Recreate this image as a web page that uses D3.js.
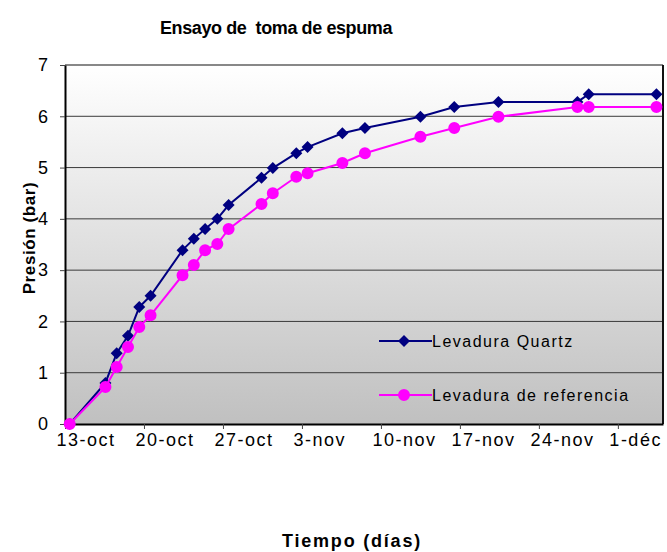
<!DOCTYPE html>
<html>
<head>
<meta charset="utf-8">
<script src="https://cdn.jsdelivr.net/npm/d3@7"></script>
<style>
  body { margin: 0; background: #fff; }
  text { font-family: Arial, "Liberation Sans", sans-serif; fill: #000; }
</style>
</head>
<body>
<div id="chart"></div>
<script>
// fechas de medida (dia + hora aprox.)
const fechas = [
  "2008-10-13T10:00", "2008-10-16T14:00", "2008-10-17T14:00", "2008-10-18T14:00",
  "2008-10-19T14:00", "2008-10-20T14:00", "2008-10-23T10:00", "2008-10-24T10:00",
  "2008-10-25T10:00", "2008-10-26T12:00", "2008-10-27T12:00", "2008-10-30T10:00",
  "2008-10-31T10:00", "2008-11-02T12:00", "2008-11-03T12:00", "2008-11-06T14:00",
  "2008-11-08T14:00", "2008-11-13T12:00", "2008-11-16T12:00", "2008-11-20T10:00",
  "2008-11-27T10:00", "2008-11-28T10:00", "2008-12-04T10:00"
]
const quartz = [0, 0.8, 1.38, 1.72, 2.28, 2.5, 3.39, 3.61, 3.8, 4.0, 4.27, 4.8,
  4.99, 5.28, 5.4, 5.67, 5.77, 5.99, 6.18, 6.28, 6.28, 6.43, 6.43]
const referencia = [0, 0.72, 1.11, 1.5, 1.89, 2.12, 2.9, 3.1, 3.39, 3.51, 3.8, 4.29,
  4.5, 4.82, 4.89, 5.09, 5.28, 5.6, 5.77, 5.99, 6.18, 6.18, 6.18]

const tickFechas = ["2008-10-13", "2008-10-20", "2008-10-27", "2008-11-03",
  "2008-11-10", "2008-11-17", "2008-11-24", "2008-12-01"]
const tickLabels = ["13-oct", "20-oct", "27-oct", "3-nov", "10-nov", "17-nov", "24-nov", "1-déc"]
const yTicks = [0, 1, 2, 3, 4, 5, 6, 7]
const seriesNames = ["Levadura Quartz", "Levadura de referencia"]

var W = 667, H = 552
var margin = {top: 65, right: 4, bottom: 128, left: 65},
    width = W - margin.left - margin.right,
    height = H - margin.top - margin.bottom

const parse = d3.timeParse("%Y-%m-%dT%H:%M")
const parseDay = d3.timeParse("%Y-%m-%d")

const svg = d3.select("#chart").append("svg")
    .attr("width", W)
    .attr("height", H)

const defs = svg.append("defs")
const grad = defs.append("linearGradient")
    .attr("id", "fondo").attr("x1", 0).attr("y1", 0).attr("x2", 0).attr("y2", 1)
grad.append("stop").attr("offset", "0%").attr("stop-color", "#ffffff")
grad.append("stop").attr("offset", "100%").attr("stop-color", "#c0c0c0")

const canvas = svg.append("g")
    .attr("transform", "translate(" + margin.left + "," + margin.top + ")")

var xScale = d3.scaleTime()
    .domain([parseDay("2008-10-13"), parseDay("2008-12-05")])
    .range([0, width])

var yScale = d3.scaleLinear()
    .domain([0, 7])
    .range([height, 0])

// fondo del area de grafico
canvas.append("rect")
    .attr("width", width)
    .attr("height", height)
    .attr("fill", "url(#fondo)")

// lineas de division
canvas.append("g")
    .selectAll("line")
    .data(yTicks.slice(1, -1))
    .enter()
    .append("line")
        .attr("x1", 0).attr("x2", width)
        .attr("y1", d => yScale(d)).attr("y2", d => yScale(d))
        .attr("stroke", "#3a3a3a")
        .attr("stroke-width", 1)

// borde superior y derecho
canvas.append("line")
    .attr("x1", 0).attr("x2", width).attr("y1", 0).attr("y2", 0)
    .attr("stroke", "#888").attr("stroke-width", 2)
canvas.append("line")
    .attr("x1", width).attr("x2", width).attr("y1", 0).attr("y2", height)
    .attr("stroke", "#111").attr("stroke-width", 2)

// ejes
const xAxis = canvas.append("g")
    .attr("transform", "translate(0," + height + ")")
    .call(d3.axisBottom(xScale)
        .tickValues(tickFechas.map(parseDay))
        .tickFormat((d, i) => tickLabels[i])
        .tickSize(5)
        .tickSizeOuter(0))
xAxis.select(".domain").attr("stroke", "#000").attr("stroke-width", 2)
xAxis.selectAll(".tick line").attr("stroke", "#444")
xAxis.selectAll(".tick text")
    .attr("font-size", 18)
    .attr("letter-spacing", "1.5px")
    .attr("text-anchor", "start")
    .attr("x", -9)
    .attr("y", 9)
    .attr("dy", "0.71em")

const yAxis = canvas.append("g")
    .call(d3.axisLeft(yScale)
        .tickValues(yTicks)
        .tickFormat(d3.format("d"))
        .tickSize(5)
        .tickPadding(12)
        .tickSizeOuter(0))
yAxis.select(".domain").attr("stroke", "#000").attr("stroke-width", 2)
yAxis.selectAll(".tick line").attr("stroke", "#444")
yAxis.selectAll(".tick text").attr("font-size", 18)

// series
const series = [
  {name: seriesNames[0], values: quartz, color: "#000080", shape: d3.symbolSquare, size: 72, rot: 45},
  {name: seriesNames[1], values: referencia, color: "#ff00ff", shape: d3.symbolCircle, size: 113, rot: 0}
]

const line = d3.line()
    .x(d => xScale(d.x))
    .y(d => yScale(d.y))

series.forEach(s => {
  const pts = fechas.map((f, i) => ({x: parse(f), y: s.values[i]}))
  canvas.append("path")
      .datum(pts)
      .attr("d", line)
      .attr("fill", "none")
      .attr("stroke", s.color)
      .attr("stroke-width", 2)
  canvas.append("g")
      .selectAll("path")
      .data(pts)
      .enter()
      .append("path")
          .attr("transform", d => "translate(" + xScale(d.x) + "," + yScale(d.y) + ") rotate(" + s.rot + ")")
          .attr("d", d3.symbol().type(s.shape).size(s.size))
          .attr("fill", s.color)
})

// leyenda
const legend = canvas.append("g")
    .attr("transform", "translate(" + (379 - margin.left) + "," + (341 - margin.top) + ")")
series.forEach((s, i) => {
  const g = legend.append("g").attr("transform", "translate(0," + (i * 54) + ")")
  g.append("line")
      .attr("x1", 0).attr("x2", 53)
      .attr("stroke", s.color).attr("stroke-width", 2)
  g.append("path")
      .attr("transform", "translate(25,0) rotate(" + s.rot + ")")
      .attr("d", d3.symbol().type(s.shape).size(s.size))
      .attr("fill", s.color)
  g.append("text")
      .attr("x", 53)
      .attr("dy", "0.35em")
      .attr("font-size", 16)
      .attr("letter-spacing", "1.5px")
      .text(s.name)
})

// titulos
svg.append("text")
    .attr("x", 276)
    .attr("y", 34)
    .attr("text-anchor", "middle")
    .attr("font-size", 18)
    .attr("font-weight", "bold")
    .attr("letter-spacing", "-0.4px")
    .style("white-space", "pre")
    .text("Ensayo de  toma de espuma")

svg.append("text")
    .attr("x", 352)
    .attr("y", 547)
    .attr("text-anchor", "middle")
    .attr("font-size", 18)
    .attr("font-weight", "bold")
    .attr("letter-spacing", "1.8px")
    .text("Tiempo (días)")

svg.append("text")
    .attr("transform", "translate(35,238) rotate(-90)")
    .attr("text-anchor", "middle")
    .attr("font-size", 17)
    .attr("font-weight", "bold")
    .attr("letter-spacing", "0.6px")
    .text("Presión (bar)")
</script>
</body>
</html>
